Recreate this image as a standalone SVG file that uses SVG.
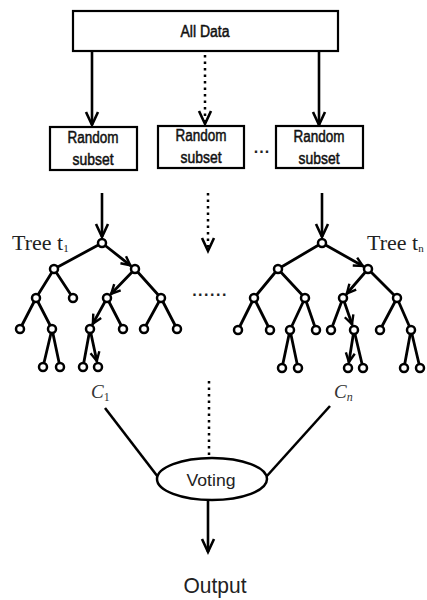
<svg xmlns="http://www.w3.org/2000/svg" width="427" height="600" viewBox="0 0 427 600">
<style>
.box{fill:#fff;stroke:#000;stroke-width:2.2}
.lbl{font-family:"Liberation Sans",Arial,sans-serif;font-size:16px;text-anchor:middle;fill:#111;stroke:#111;stroke-width:0.5}
.e{stroke:#000;stroke-width:2.8;stroke-linecap:round;fill:none}
.n{fill:#fff;stroke:#000;stroke-width:2.5}
.big{stroke:#000;stroke-width:2.6;fill:none}
.dot{stroke:#000;stroke-width:2.5;stroke-dasharray:2.5 4;fill:none}
.tree{font-family:"Liberation Serif","Times New Roman",serif;font-size:22px;fill:#222}
.math{font-family:"Liberation Serif","Times New Roman",serif;font-style:italic;font-size:19px;fill:#333}
.sans{font-family:"Liberation Sans",Arial,sans-serif;fill:#222;text-anchor:middle}
</style>
<defs>
<marker id="ah" markerUnits="userSpaceOnUse" markerWidth="30" markerHeight="30" refX="0" refY="0" orient="auto" overflow="visible">
<path d="M-13,-6 L0,0 L-13,6" fill="none" stroke="#000" stroke-width="2.6" stroke-linejoin="miter"/>
</marker>
<marker id="sa" markerUnits="userSpaceOnUse" markerWidth="20" markerHeight="20" refX="0" refY="0" orient="auto" overflow="visible">
<path d="M-9,-4.5 L0,0 L-9,4.5" fill="none" stroke="#000" stroke-width="2.4" stroke-linejoin="miter"/>
</marker>
</defs>
<rect width="427" height="600" fill="#fff"/>

<g id="connectors">
<line class="big" x1="92" y1="51" x2="92" y2="125" marker-end="url(#ah)"/>
<line class="dot" x1="205" y1="55" x2="205" y2="124" marker-end="url(#ah)"/>
<line class="big" x1="319" y1="51" x2="319" y2="125" marker-end="url(#ah)"/>
<line class="big" x1="102" y1="193" x2="102" y2="237" marker-end="url(#ah)"/>
<line class="dot" x1="208" y1="193" x2="208" y2="251" marker-end="url(#ah)"/>
<line class="big" x1="322" y1="193" x2="322" y2="237" marker-end="url(#ah)"/>
<line class="big" x1="105" y1="408" x2="158" y2="477" stroke-width="2.8"/>
<line class="big" x1="330" y1="406" x2="266" y2="477" stroke-width="2.8"/>
<line class="dot" x1="209" y1="381" x2="209" y2="457" stroke-width="3" stroke-dasharray="3 4.5"/>
<line class="big" x1="208" y1="500" x2="208" y2="552" marker-end="url(#ah)"/>
</g>

<g id="all-data">
<rect class="box" x="73" y="11" width="265" height="40"/>
<text class="lbl" x="205" y="37" textLength="49" lengthAdjust="spacingAndGlyphs">All Data</text>
</g>

<g id="subset-1">
<rect class="box" x="50" y="127" width="87" height="43"/>
<text class="lbl" x="93" y="143" textLength="51" lengthAdjust="spacingAndGlyphs">Random</text>
<text class="lbl" x="93" y="165" textLength="41" lengthAdjust="spacingAndGlyphs">subset</text>
</g>
<g id="subset-2">
<rect class="box" x="158" y="126" width="86" height="42"/>
<text class="lbl" x="201" y="141" textLength="51" lengthAdjust="spacingAndGlyphs">Random</text>
<text class="lbl" x="201" y="163" textLength="41" lengthAdjust="spacingAndGlyphs">subset</text>
</g>
<g id="subset-dots">
<text class="sans" x="262" y="153" font-size="16" font-weight="bold" letter-spacing="1">...</text>
</g>
<g id="subset-n">
<rect class="box" x="276" y="126" width="87" height="42"/>
<text class="lbl" x="319" y="142" textLength="51" lengthAdjust="spacingAndGlyphs">Random</text>
<text class="lbl" x="319" y="164" textLength="41" lengthAdjust="spacingAndGlyphs">subset</text>
</g>

<g id="tree-1">
<line class="e" x1="102" y1="243" x2="54" y2="269"/>
<line class="e" x1="102" y1="243" x2="130.3" y2="265.3" marker-end="url(#sa)"/>
<line class="e" x1="54" y1="269" x2="36" y2="298"/>
<line class="e" x1="54" y1="269" x2="73" y2="298"/>
<line class="e" x1="135" y1="269" x2="111.2" y2="293.7" marker-end="url(#sa)"/>
<line class="e" x1="135" y1="269" x2="161" y2="298"/>
<line class="e" x1="36" y1="298" x2="20" y2="329"/>
<line class="e" x1="36" y1="298" x2="52" y2="329"/>
<line class="e" x1="107" y1="298" x2="92.9" y2="323.7" marker-end="url(#sa)"/>
<line class="e" x1="107" y1="298" x2="123" y2="329"/>
<line class="e" x1="161" y1="298" x2="144" y2="329"/>
<line class="e" x1="161" y1="298" x2="177" y2="329"/>
<line class="e" x1="52" y1="329" x2="43" y2="367"/>
<line class="e" x1="52" y1="329" x2="60" y2="367"/>
<line class="e" x1="90" y1="329" x2="83" y2="367"/>
<line class="e" x1="90" y1="329" x2="96.8" y2="361" marker-end="url(#sa)"/>
<circle class="n" cx="102" cy="243" r="4"/>
<circle class="n" cx="54" cy="269" r="4"/>
<circle class="n" cx="135" cy="269" r="4"/>
<circle class="n" cx="36" cy="298" r="4"/>
<circle class="n" cx="73" cy="298" r="4"/>
<circle class="n" cx="107" cy="298" r="4"/>
<circle class="n" cx="161" cy="298" r="4"/>
<circle class="n" cx="20" cy="329" r="4"/>
<circle class="n" cx="52" cy="329" r="4"/>
<circle class="n" cx="90" cy="329" r="4"/>
<circle class="n" cx="123" cy="329" r="4"/>
<circle class="n" cx="144" cy="329" r="4"/>
<circle class="n" cx="177" cy="329" r="4"/>
<circle class="n" cx="43" cy="367" r="4"/>
<circle class="n" cx="60" cy="367" r="4"/>
<circle class="n" cx="83" cy="367" r="4"/>
<circle class="n" cx="98" cy="367" r="4"/>
<text class="tree" x="12" y="250" font-size="23">Tree t<tspan font-size="11" dy="2">1</tspan></text>
<text class="math" x="91" y="398">C<tspan font-size="12" dy="3" font-style="normal">1</tspan></text>
</g>

<g id="tree-dots">
<text class="sans" x="210" y="296" font-size="16" font-weight="bold" letter-spacing="1.5">......</text>
</g>

<g id="tree-n">
<line class="e" x1="322" y1="243" x2="278" y2="269"/>
<line class="e" x1="322" y1="243" x2="362.8" y2="266" marker-end="url(#sa)"/>
<line class="e" x1="278" y1="269" x2="254" y2="298"/>
<line class="e" x1="278" y1="269" x2="305" y2="298"/>
<line class="e" x1="368" y1="269" x2="346.9" y2="293.5" marker-end="url(#sa)"/>
<line class="e" x1="368" y1="269" x2="397" y2="298"/>
<line class="e" x1="254" y1="298" x2="238" y2="330"/>
<line class="e" x1="254" y1="298" x2="270" y2="330"/>
<line class="e" x1="305" y1="298" x2="290" y2="330"/>
<line class="e" x1="305" y1="298" x2="316" y2="330"/>
<line class="e" x1="343" y1="298" x2="331" y2="330"/>
<line class="e" x1="343" y1="298" x2="352" y2="324.3" marker-end="url(#sa)"/>
<line class="e" x1="397" y1="298" x2="380" y2="330"/>
<line class="e" x1="397" y1="298" x2="411" y2="330"/>
<line class="e" x1="290" y1="330" x2="282" y2="368"/>
<line class="e" x1="290" y1="330" x2="298" y2="368"/>
<line class="e" x1="354" y1="330" x2="348.9" y2="362" marker-end="url(#sa)"/>
<line class="e" x1="354" y1="330" x2="363" y2="368"/>
<line class="e" x1="411" y1="330" x2="404" y2="368"/>
<line class="e" x1="411" y1="330" x2="420" y2="368"/>
<circle class="n" cx="322" cy="243" r="4"/>
<circle class="n" cx="278" cy="269" r="4"/>
<circle class="n" cx="368" cy="269" r="4"/>
<circle class="n" cx="254" cy="298" r="4"/>
<circle class="n" cx="305" cy="298" r="4"/>
<circle class="n" cx="343" cy="298" r="4"/>
<circle class="n" cx="397" cy="298" r="4"/>
<circle class="n" cx="238" cy="330" r="4"/>
<circle class="n" cx="270" cy="330" r="4"/>
<circle class="n" cx="290" cy="330" r="4"/>
<circle class="n" cx="316" cy="330" r="4"/>
<circle class="n" cx="331" cy="330" r="4"/>
<circle class="n" cx="354" cy="330" r="4"/>
<circle class="n" cx="380" cy="330" r="4"/>
<circle class="n" cx="411" cy="330" r="4"/>
<circle class="n" cx="282" cy="368" r="4"/>
<circle class="n" cx="298" cy="368" r="4"/>
<circle class="n" cx="348" cy="368" r="4"/>
<circle class="n" cx="363" cy="368" r="4"/>
<circle class="n" cx="404" cy="368" r="4"/>
<circle class="n" cx="420" cy="368" r="4"/>
<text class="tree" x="367" y="250">Tree t<tspan font-size="11" dy="2">n</tspan></text>
<text class="math" x="334" y="398">C<tspan font-size="12" dy="3">n</tspan></text>
</g>

<g id="voting">
<ellipse cx="212" cy="479" rx="55" ry="21" fill="#fff" stroke="#000" stroke-width="2.5"/>
<text class="sans" x="211" y="486" font-size="17" textLength="49" lengthAdjust="spacingAndGlyphs">Voting</text>
</g>

<g id="output">
<text class="sans" x="215" y="593" font-size="22" textLength="63" lengthAdjust="spacingAndGlyphs">Output</text>
</g>
</svg>
